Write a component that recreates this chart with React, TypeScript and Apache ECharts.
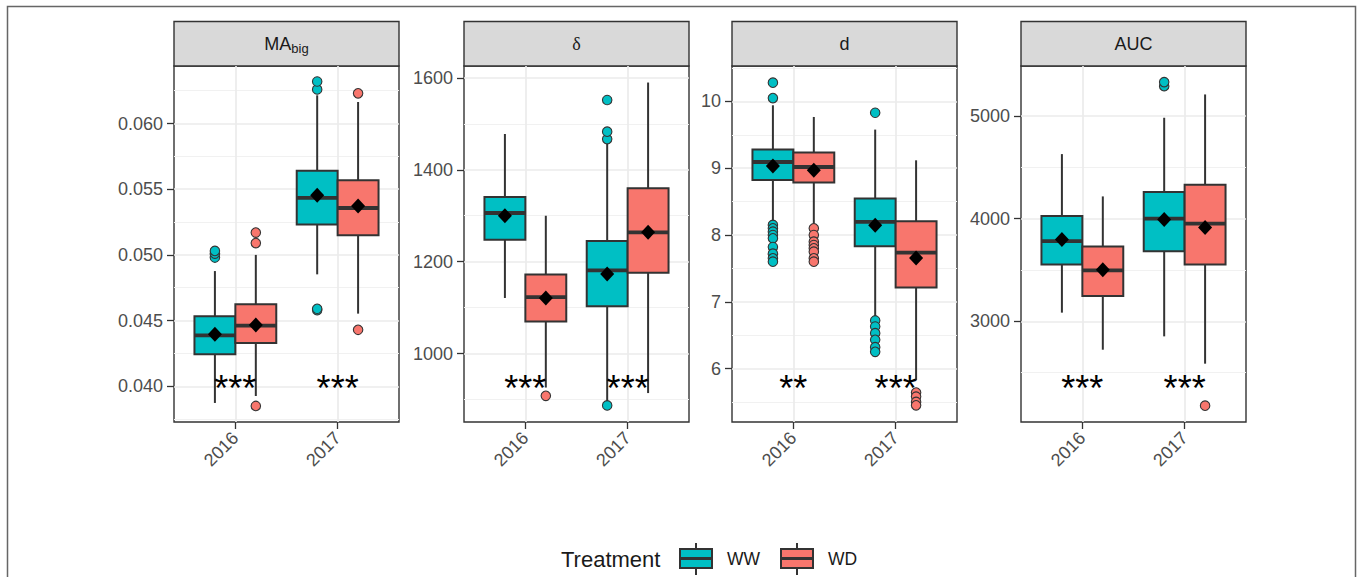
import React, { useEffect, useRef } from 'react';
import * as echarts from 'echarts';

// ---------- data ----------
const years = ['2016', '2017'];
const treatments = ['WW', 'WD'];
const treatmentColors = ['#00BFC4', '#F8766D'];

// box stats per year: [lower whisker, Q1, median, Q3, upper whisker]
const maBoxWW = [[0.03873, 0.04244, 0.04388, 0.04533, 0.04877], [0.04852, 0.05231, 0.05434, 0.05641, 0.06215]];
const maBoxWD = [[0.03926, 0.0433, 0.04462, 0.04624, 0.05], [0.04553, 0.05149, 0.05357, 0.05568, 0.06164]];
const maMeanWW = [0.04396, 0.05454];
const maMeanWD = [0.04467, 0.05372];
const maOutWW = [[0.0498, 0.0501, 0.0503], [0.0458, 0.0459, 0.0626, 0.0632]];
const maOutWD = [[0.0385, 0.0509, 0.0517], [0.0443, 0.0623]];
const maStars = ['***', '***'];
const maStarY = 0.03986;
const maRange = [0.03728, 0.06438];
const maTicks = [0.04, 0.045, 0.05, 0.055, 0.06];
const maMinor = [0.0375, 0.0425, 0.0475, 0.0525, 0.0575, 0.0625];

const deBoxWW = [[1121, 1248, 1306, 1341, 1478], [895, 1103, 1181, 1245, 1458]];
const deBoxWD = [[926, 1070, 1123, 1172, 1300], [914, 1176, 1264, 1360, 1590]];
const deMeanWW = [1300, 1173];
const deMeanWD = [1121, 1264];
const deOutWW = [[], [887, 1467, 1483, 1552]];
const deOutWD = [[908], []];
const deStars = ['***', '***'];
const deStarY = 925;
const deRange = [851, 1626];
const deTicks = [1000, 1200, 1400, 1600];
const deMinor = [900, 1100, 1300, 1500];

const dBoxWW = [[8.19, 8.823, 9.093, 9.279, 9.942], [6.77, 7.831, 8.195, 8.545, 9.578]];
const dBoxWD = [[8.17, 8.784, 9.018, 9.234, 9.767], [5.825, 7.213, 7.736, 8.205, 9.118]];
const dMeanWW = [9.033, 8.145];
const dMeanWD = [8.968, 7.656];
const dOutWW = [[10.28, 10.05, 8.15, 8.1, 8.05, 8.0, 7.95, 7.82, 7.72, 7.65, 7.6], [9.83, 6.72, 6.63, 6.53, 6.43, 6.32, 6.25]];
const dOutWD = [[8.1, 8.0, 7.9, 7.85, 7.8, 7.75, 7.65, 7.6], [5.64, 5.58, 5.5, 5.45]];
const dStars = ['**', '***'];
const dStarY = 5.708;
const dRange = [5.2, 10.53];
const dTicks = [6, 7, 8, 9, 10];
const dMinor = [5.5, 6.5, 7.5, 8.5, 9.5, 10.5];

const aucBoxWW = [[3085, 3555, 3782, 4025, 4629], [2854, 3682, 4000, 4259, 4983]];
const aucBoxWD = [[2724, 3246, 3497, 3730, 4217], [2588, 3555, 3951, 4331, 5210]];
const aucMeanWW = [3798, 3993];
const aucMeanWD = [3503, 3915];
const aucOutWW = [[], [5291, 5330]];
const aucOutWD = [[], [2179]];
const aucStars = ['***', '***'];
const aucStarY = 2350;
const aucRange = [2020, 5487];
const aucTicks = [3000, 4000, 5000];
const aucMinor = [2500, 3500, 4500];

const panels = [
  { title: 'MA', sub: 'big', serif: false, box: [maBoxWW, maBoxWD], mean: [maMeanWW, maMeanWD], out: [maOutWW, maOutWD], stars: maStars, starY: maStarY, range: maRange, ticks: maTicks, minor: maMinor, dec: 3 },
  { title: 'δ', sub: '', serif: true, box: [deBoxWW, deBoxWD], mean: [deMeanWW, deMeanWD], out: [deOutWW, deOutWD], stars: deStars, starY: deStarY, range: deRange, ticks: deTicks, minor: deMinor, dec: 0 },
  { title: 'd', sub: '', serif: false, box: [dBoxWW, dBoxWD], mean: [dMeanWW, dMeanWD], out: [dOutWW, dOutWD], stars: dStars, starY: dStarY, range: dRange, ticks: dTicks, minor: dMinor, dec: 0 },
  { title: 'AUC', sub: '', serif: false, box: [aucBoxWW, aucBoxWD], mean: [aucMeanWW, aucMeanWD], out: [aucOutWW, aucOutWD], stars: aucStars, starY: aucStarY, range: aucRange, ticks: aucTicks, minor: aucMinor, dec: 0 },
];

// ---------- layout ----------
const FONT = "'Liberation Sans', Arial, Helvetica, sans-serif";
const panelLeft = [174, 464, 732, 1021];
const panelW = 225;
const panelTop = 66;
const panelH = 356;
const stripTop = 21.5;
const dodge = 0.2;
const boxW = 0.4;
const LINE = '#333333';

function buildOption() {
  const grid: any[] = [];
  const xAxis: any[] = [];
  const yAxis: any[] = [];
  const series: any[] = [];
  const graphic: any[] = [];

  graphic.push({
    type: 'rect', z: -10, silent: true,
    shape: { x: 7.5, y: 6.5, width: 1348, height: 620 },
    style: { fill: 'none', stroke: '#666', lineWidth: 1.5 },
  });

  panels.forEach((p, i) => {
    grid.push({
      left: panelLeft[i], top: panelTop, width: panelW, height: panelH,
      show: true, backgroundColor: '#fff', borderColor: LINE, borderWidth: 1.4,
    });
    xAxis.push({
      gridIndex: i, type: 'value', min: 0.4, max: 2.6,
      axisLine: { show: false },
      axisTick: { show: true, length: 7, customValues: [1, 2], lineStyle: { color: LINE, width: 1.3 } },
      axisLabel: {
        show: true, customValues: [1, 2], rotate: 45, margin: 13,
        formatter: (v: number) => years[Math.round(v) - 1] ?? '',
        color: '#4D4D4D', fontSize: 18, fontFamily: FONT,
      },
      splitLine: { show: true, lineStyle: { color: '#EBEBEB', width: 1.7 } },
    });
    yAxis.push({
      gridIndex: i, type: 'value', min: p.range[0], max: p.range[1],
      axisLine: { show: false },
      axisTick: { show: true, length: 7, customValues: p.ticks, lineStyle: { color: LINE, width: 1.3 } },
      axisLabel: {
        show: true, customValues: p.ticks, margin: 11,
        formatter: (v: number) => v.toFixed(p.dec),
        color: '#4D4D4D', fontSize: 18, fontFamily: FONT,
      },
      splitLine: { show: true, lineStyle: { color: '#EBEBEB', width: 1.7 } },
    });
    yAxis.push({
      gridIndex: i, type: 'value', min: p.range[0], max: p.range[1],
      axisLine: { show: false },
      axisTick: { show: false, customValues: p.minor },
      axisLabel: { show: false, customValues: p.minor },
      splitLine: { show: true, lineStyle: { color: '#F1F1F1', width: 1 } },
    });

    // boxes
    const boxData: any[] = [];
    p.box.forEach((tb, t) => {
      tb.forEach((s, j) => {
        boxData.push([j + 1 + (t === 0 ? -dodge : dodge), s[0], s[1], s[2], s[3], s[4], t]);
      });
    });
    series.push({
      type: 'custom', xAxisIndex: i, yAxisIndex: 2 * i, z: 2,
      data: boxData,
      renderItem: (params: any, api: any) => {
        const x = api.value(0);
        const w = api.size([boxW, 0])[0];
        const lo = api.coord([x, api.value(1)]);
        const q1 = api.coord([x, api.value(2)]);
        const md = api.coord([x, api.value(3)]);
        const q3 = api.coord([x, api.value(4)]);
        const hi = api.coord([x, api.value(5)]);
        const col = treatmentColors[api.value(6)];
        const cx = lo[0];
        return {
          type: 'group',
          children: [
            { type: 'line', shape: { x1: cx, y1: hi[1], x2: cx, y2: q3[1] }, style: { stroke: LINE, lineWidth: 2 } },
            { type: 'line', shape: { x1: cx, y1: q1[1], x2: cx, y2: lo[1] }, style: { stroke: LINE, lineWidth: 2 } },
            { type: 'rect', shape: { x: cx - w / 2, y: q3[1], width: w, height: q1[1] - q3[1] }, style: { fill: col, stroke: LINE, lineWidth: 2 } },
            { type: 'line', shape: { x1: cx - w / 2, y1: md[1], x2: cx + w / 2, y2: md[1] }, style: { stroke: LINE, lineWidth: 3.8 } },
          ],
        };
      },
    });

    // outliers
    p.out.forEach((to, t) => {
      const d: number[][] = [];
      to.forEach((vals, j) => vals.forEach((v) => d.push([j + 1 + (t === 0 ? -dodge : dodge), v])));
      series.push({
        type: 'scatter', name: treatments[t], xAxisIndex: i, yAxisIndex: 2 * i, z: 3,
        symbol: 'circle', symbolSize: 9.5, data: d,
        itemStyle: { color: treatmentColors[t], borderColor: LINE, borderWidth: 1.1, opacity: 1 },
      });
    });

    // means
    const meanData: number[][] = [];
    p.mean.forEach((tm, t) => tm.forEach((v, j) => meanData.push([j + 1 + (t === 0 ? -dodge : dodge), v])));
    series.push({
      type: 'scatter', xAxisIndex: i, yAxisIndex: 2 * i, z: 4,
      symbol: 'diamond', symbolSize: [14, 15], data: meanData,
      itemStyle: { color: '#000', opacity: 1 },
    });

    // significance stars
    series.push({
      type: 'custom', xAxisIndex: i, yAxisIndex: 2 * i, z: 5,
      data: p.stars.map((s, j) => [j + 1, p.starY, j]),
      renderItem: (params: any, api: any) => {
        const pt = api.coord([api.value(0), api.value(1)]);
        return {
          type: 'text', x: pt[0], y: pt[1],
          style: { text: p.stars[api.value(2)], fontSize: 36, fontFamily: FONT, fill: '#000', align: 'center', verticalAlign: 'middle' },
        };
      },
    });

    // strip
    graphic.push({
      type: 'rect', silent: true,
      shape: { x: panelLeft[i], y: stripTop, width: panelW, height: panelTop - stripTop },
      style: { fill: '#D9D9D9', stroke: LINE, lineWidth: 1.4 },
    });
    if (p.sub) {
      graphic.push({
        type: 'text', silent: true,
        x: panelLeft[i] + panelW / 2, y: 44,
        style: {
          text: `{a|${p.title}}{b|${p.sub}}`,
          align: 'center', verticalAlign: 'middle',
          rich: {
            a: { fontSize: 18, fontFamily: FONT, fill: '#1A1A1A', lineHeight: 22 },
            b: { fontSize: 13, fontFamily: FONT, fill: '#1A1A1A', lineHeight: 22, padding: [9, 0, 0, 0] },
          },
        },
      });
    } else {
      graphic.push({
        type: 'text', silent: true,
        x: panelLeft[i] + panelW / 2, y: 44,
        style: {
          text: p.title, fontSize: 18, fontFamily: p.serif ? "'Liberation Serif', 'DejaVu Serif', serif" : FONT,
          fill: '#1A1A1A', align: 'center', verticalAlign: 'middle',
        },
      });
    }
  });

  // legend
  graphic.push({
    type: 'text', silent: true, x: 561, y: 559,
    style: { text: 'Treatment', fontSize: 22, fontFamily: FONT, fill: '#1A1A1A', align: 'left', verticalAlign: 'middle' },
  });
  const keyX = [680, 781];
  const labelX = [727, 828];
  treatments.forEach((t, k) => {
    const x0 = keyX[k];
    const cx = x0 + 16;
    graphic.push({ type: 'line', silent: true, shape: { x1: cx, y1: 543, x2: cx, y2: 575 }, style: { stroke: LINE, lineWidth: 2 } });
    graphic.push({ type: 'rect', silent: true, shape: { x: x0, y: 549, width: 32, height: 19 }, style: { fill: treatmentColors[k], stroke: LINE, lineWidth: 2 } });
    graphic.push({ type: 'line', silent: true, shape: { x1: x0, y1: 558.5, x2: x0 + 32, y2: 558.5 }, style: { stroke: LINE, lineWidth: 3 } });
    graphic.push({
      type: 'text', silent: true, x: labelX[k], y: 559,
      style: { text: t, fontSize: 17.5, fontFamily: FONT, fill: '#1A1A1A', align: 'left', verticalAlign: 'middle' },
    });
  });

  return {
    animation: false,
    backgroundColor: '#fff',
    grid, xAxis, yAxis, series, graphic,
  };
}

export default function App() {
  const ref = useRef<HTMLDivElement>(null);
  useEffect(() => {
    document.body.style.margin = '0';
    if (!ref.current) return;
    const chart = echarts.init(ref.current, undefined, { renderer: 'svg' });
    chart.setOption(buildOption() as any);
    return () => chart.dispose();
  }, []);
  return <div ref={ref} style={{ width: 1360, height: 577 }} />;
}
